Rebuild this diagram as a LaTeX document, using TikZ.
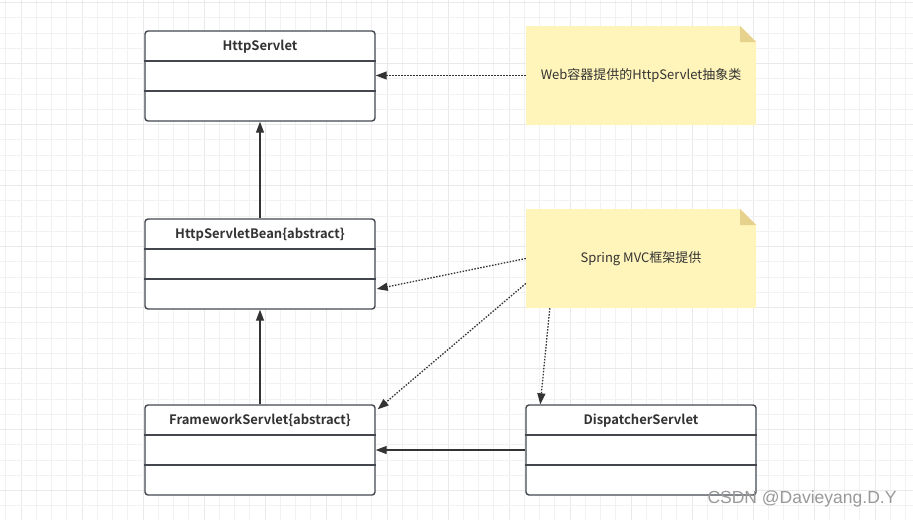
\documentclass[tikz,border=0pt]{standalone}
\usepackage{fontspec}
\setmainfont[BoldFont={Noto Sans CJK SC Bold}]{Noto Sans CJK SC}
\newfontfamily\wmfont{Liberation Sans}
\usepackage{tikz}
\usetikzlibrary{arrows.meta}
\definecolor{boxgray}{HTML}{43474D}
\definecolor{textgray}{HTML}{333333}
\definecolor{notefill}{HTML}{FFF4BA}
\definecolor{foldfill}{HTML}{E6D28C}
\definecolor{gridminor}{HTML}{F2F2F2}
\definecolor{gridmajor}{HTML}{E9E9E9}

\begin{document}
\begin{tikzpicture}[x=1pt, y=-1pt,
	classbox/.style={rectangle, draw=boxgray, line width=1.4pt, rounded corners=3pt, fill=white, minimum width=230pt, minimum height=90pt, inner sep=0pt},
	title/.style={font=\fontsize{13}{15}\selectfont\bfseries, text=textgray, inner sep=0pt, anchor=base},
	note/.style={rectangle, minimum width=230pt, minimum height=99pt, inner sep=0pt, text=textgray, font=\fontsize{13}{15}\selectfont,
		path picture={
			\fill[notefill] (path picture bounding box.south west) |- ([xshift=-16pt]path picture bounding box.north east) -- ([yshift=-16pt]path picture bounding box.north east) |- cycle;
			\fill[foldfill] ([xshift=-16pt]path picture bounding box.north east) -- ([xshift=-16pt, yshift=-16pt]path picture bounding box.north east) -- ([yshift=-16pt]path picture bounding box.north east) -- cycle;
		}},
	extends/.style={draw=textgray, line width=1.3pt, -{Triangle[length=11pt, width=8pt]}},
	hint/.style={extends, dash pattern=on 1.5pt off 1.5pt}]
		\useasboundingbox[fill=white] (0,0) rectangle (913,520);
		%Raster
		\foreach \i in {0,...,59} {
			\pgfmathtruncatemacro\mj{mod(\i,4)==1}
			\ifnum\mj=1 \draw[gridmajor, line width=1pt] (5.75+15.25*\i,0) to (5.75+15.25*\i,520);
			\else \draw[gridminor, line width=1pt] (5.75+15.25*\i,0) to (5.75+15.25*\i,520); \fi
		}
		\foreach \j in {0,...,33} {
			\pgfmathtruncatemacro\mj{mod(\j,4)==0}
			\ifnum\mj=1 \draw[gridmajor, line width=1pt] (0,2.5+15.25*\j) to (913,2.5+15.25*\j);
			\else \draw[gridminor, line width=1pt] (0,2.5+15.25*\j) to (913,2.5+15.25*\j); \fi
		}
		%Klassen
		\node (http) [classbox] at (260,76) {};
		\node (bean) [classbox] at (260,264) {};
		\node (fw) [classbox] at (260,450) {};
		\node (disp) [classbox] at (641,450) {};
		\foreach \n in {http, bean, fw, disp}
			\draw[boxgray, line width=1.4pt] ([yshift=15pt]\n.west) to ([yshift=15pt]\n.east) ([yshift=-15pt]\n.west) to ([yshift=-15pt]\n.east);
		\node (httpT) [title] at ([yshift=-20pt]http.north) {HttpServlet};
		\node (beanT) [title] at ([yshift=-20pt]bean.north) {HttpServletBean\{abstract\}};
		\node (fwT) [title] at ([yshift=-20pt]fw.north) {FrameworkServlet\{abstract\}};
		\node (dispT) [title] at ([yshift=-20pt]disp.north) {DispatcherServlet};
		%Notizen
		\node (noteA) [note] at (641,75.5) {Web容器提供的HttpServlet抽象类};
		\node (noteB) [note] at (641,258.5) {Spring MVC框架提供};
		%Vererbung
		\draw[extends] (bean.north) to (http.south);
		\draw[extends] (fw.north) to (bean.south);
		\draw[extends] (disp.west) to (fw.east);
		%Hinweise
		\draw[hint] (noteA.west) to (noteA.west -| http.east);
		\draw[hint] (noteB.west) to ([xshift=1pt, yshift=-25pt]bean.east);
		\draw[hint] ([yshift=-25pt]noteB.west) to ([xshift=2pt, yshift=-5pt]fw.north east);
		\draw[hint] ([xshift=24pt]noteB.south west) to ([xshift=15pt]disp.north west);
		\node (mark) [font=\wmfont\fontsize{17.5}{20}\selectfont, text=black!40] at (802,499) {CSDN @Davieyang.D.Y};
	\end{tikzpicture}
\end{document}
